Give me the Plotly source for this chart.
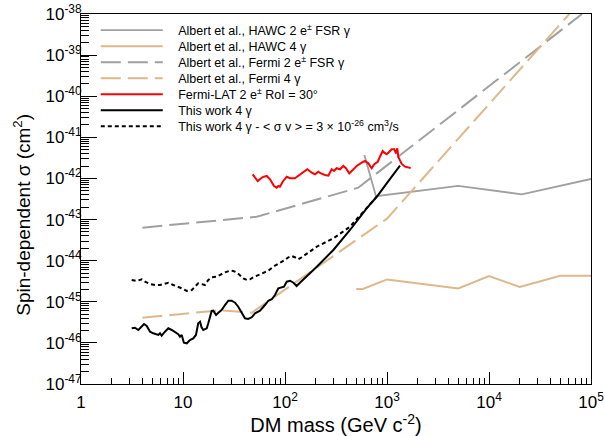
import plotly.graph_objects as go

# ---------------- data ----------------
hawc_2e_mass = [600, 780, 5000, 21000, 100000]
hawc_2e_sigma = [3.7e-42, 3.7e-43, 6.6e-43, 4.1e-43, 9.7e-43]

hawc_4g_mass = [500, 580, 1000, 5000, 10000, 20000, 50000, 100000]
hawc_4g_sigma = [2.05e-45, 2.05e-45, 3.5e-45, 2.1e-45, 4.2e-45, 2.3e-45, 4.3e-45, 4.3e-45]

fermi_2e_mass = [4.0, 52.8, 523, 81600]
fermi_2e_sigma = [6.34e-44, 1.17e-43, 5.96e-43, 1.0e-38]

fermi_4g_mass = [4.0, 23.0, 47.2, 276, 1000, 61300]
fermi_4g_sigma = [4.1e-46, 6.2e-46, 5.42e-46, 1.14e-44, 1.05e-43, 1.0e-38]

lat_mass = [48.2, 54.0, 60.4, 66.2, 71.3, 78.0, 82.9, 86.0, 89.3, 94.9, 104, 112, 125, 135,
            151, 165.5, 183, 197, 212, 225, 247, 266, 287, 302, 321, 346, 373, 396, 427, 451,
            504, 565, 608, 656, 708, 750, 811, 853, 907, 941, 993, 1054, 1112, 1180, 1225,
            1262, 1291, 1394, 1501, 1707]
lat_sigma = [1.26e-42, 8.67e-43, 1.08e-42, 1.15e-42, 9.53e-43, 6.55e-43, 5.96e-43, 6.55e-43,
             6.30e-43, 8.34e-43, 1.10e-42, 1.01e-42, 1.01e-42, 1.15e-42, 1.46e-42, 1.67e-42,
             1.38e-42, 1.26e-42, 1.46e-42, 1.33e-42, 1.21e-42, 1.17e-42, 1.67e-42, 1.52e-42,
             1.77e-42, 1.67e-42, 2.01e-42, 1.77e-42, 1.33e-42, 1.52e-42, 2.01e-42, 2.42e-42,
             2.66e-42, 2.33e-42, 1.77e-42, 2.21e-42, 2.55e-42, 3.38e-42, 4.65e-42, 4.23e-42,
             3.86e-42, 4.47e-42, 5.12e-42, 5.12e-42, 4.09e-42, 5.41e-42, 3.33e-42, 2.25e-42,
             1.93e-42, 1.80e-42]

work_mass = [3.14, 3.38, 3.65, 3.94, 4.15, 4.41, 4.75, 5.11, 5.52, 5.73, 5.95, 6.18, 6.66, 7.18,
             7.75, 8.35, 8.99, 9.34, 9.71, 10.2, 10.9, 11.7, 12.6, 13.4, 14.1, 14.7, 15.2, 15.8,
             17.1, 17.7, 19.1, 19.8, 21.1, 22.2, 23.9, 25.8, 27.8, 30.0, 32.4, 34.8, 37.6, 40.5,
             43.6, 47.2, 50.8, 56.9, 63.6, 68.6, 74.1, 79.8, 86.0, 92.9, 97.8, 104, 112, 121,
             130, 140, 205, 298, 434, 632, 804, 993, 1341]
work_sigma = [2.26e-46, 2.34e-46, 2.06e-46, 2.58e-46, 2.88e-46, 2.58e-46, 1.87e-46, 1.71e-46,
              1.64e-46, 1.56e-46, 1.71e-46, 1.50e-46, 1.87e-46, 2.26e-46, 2.06e-46, 1.81e-46,
              1.62e-46, 1.41e-46, 1.56e-46, 1.01e-46, 9.77e-47, 1.17e-46, 1.29e-46, 1.56e-46,
              2.99e-46, 3.27e-46, 2.39e-46, 2.06e-46, 2.26e-46, 2.99e-46, 5.97e-46, 6.07e-46,
              4.77e-46, 5.42e-46, 6.31e-46, 8.34e-46, 1.06e-45, 1.06e-45, 9.49e-46, 7.59e-46,
              5.25e-46, 3.96e-46, 3.81e-46, 4.19e-46, 5.25e-46, 6.07e-46, 8.34e-46, 1.06e-45,
              1.15e-45, 1.46e-45, 2.13e-45, 2.25e-45, 2.33e-45, 3.08e-45, 3.25e-45, 2.91e-45,
              2.42e-45, 2.91e-45, 7.13e-45, 1.82e-44, 5.57e-44, 1.88e-43, 3.74e-43, 7.62e-43,
              2.04e-42]

sv_mass = [3.14, 3.52, 3.94, 4.24, 4.75, 5.31, 5.95, 6.66, 7.18, 8.03, 8.99, 9.71, 10.9, 12.2,
           13.1, 14.1, 15.2, 16.4, 17.7, 19.1, 21.4, 23.1, 25.8, 28.9, 31.1, 33.6, 36.2, 39.0,
           42.2, 45.4, 48.9, 54.7, 61.3, 68.6, 76.8, 86.0, 92.9, 100, 108, 116, 125, 135, 146,
           205, 298, 434, 586, 708, 793]
sv_sigma = [3.39e-45, 3.20e-45, 3.52e-45, 3.08e-45, 2.70e-45, 2.56e-45, 2.56e-45, 2.81e-45,
            2.91e-45, 2.56e-45, 2.33e-45, 2.13e-45, 1.83e-45, 1.93e-45, 2.33e-45, 2.81e-45,
            2.70e-45, 2.56e-45, 3.39e-45, 3.94e-45, 4.07e-45, 4.48e-45, 5.21e-45, 5.70e-45,
            5.60e-45, 5.21e-45, 4.48e-45, 3.72e-45, 3.39e-45, 3.52e-45, 3.94e-45, 4.48e-45,
            4.93e-45, 5.70e-45, 7.13e-45, 8.30e-45, 9.44e-45, 1.04e-44, 1.21e-44, 1.30e-44,
            1.21e-44, 1.08e-44, 1.21e-44, 2.19e-44, 3.50e-44, 6.70e-44, 1.55e-43, 2.72e-43,
            3.60e-43]

x_tickvals = [1, 10, 100, 1e3, 1e4, 1e5]
x_ticktext = ["1", "10", "10<sup>2</sup>", "10<sup>3</sup>", "10<sup>4</sup>", "10<sup>5</sup>"]
y_tickvals = [10.0 ** e for e in range(-47, -37)]
y_ticktext = ["10<sup>%d</sup>" % e for e in range(-47, -37)]

x_title = "DM mass (GeV c<sup>-2</sup>)"
y_title = "Spin-dependent σ (cm<sup>2</sup>)"

series_names = [
    "Albert et al., HAWC 2 e<sup>±</sup> FSR γ",
    "Albert et al., HAWC 4 γ",
    "Albert et al., Fermi 2 e<sup>±</sup> FSR γ",
    "Albert et al., Fermi 4 γ",
    "Fermi-LAT 2 e<sup>±</sup> RoI = 30°",
    "This work 4 γ",
    "This work 4 γ - < σ v > = 3 × 10<sup>-26</sup> cm<sup>3</sup>/s",
]

GRAY = "#a0a0a0"
TAN = "#dcb88a"
LONG = "20px,7px"
FONT = "Liberation Sans, Arial, sans-serif"
PAD = "\u00a0\u00a0\u00a0"  # spacing between legend key and its label

series = [
    (hawc_2e_mass, hawc_2e_sigma, dict(color=GRAY, width=1.8)),
    (hawc_4g_mass, hawc_4g_sigma, dict(color=TAN, width=2)),
    (fermi_2e_mass, fermi_2e_sigma, dict(color=GRAY, width=2, dash=LONG)),
    (fermi_4g_mass, fermi_4g_sigma, dict(color=TAN, width=2, dash=LONG)),
    (lat_mass, lat_sigma, dict(color="#ff0000", width=2)),
    (work_mass, work_sigma, dict(color="black", width=2)),
    (sv_mass, sv_sigma, dict(color="black", width=2, dash="4px,3px")),
]

fig = go.Figure()
layout_legends = {}
PLOT_TOP, PLOT_BOTTOM = 14, 384
row0, row_step = 30.5, 16.0
for i, ((xs, ys, ln), name) in enumerate(zip(series, series_names)):
    lg = "legend" if i == 0 else "legend%d" % (i + 1)
    fig.add_trace(go.Scatter(x=xs, y=ys, mode="lines", name=PAD + name, line=ln, legend=lg))
    py = row0 + i * row_step
    layout_legends[lg] = dict(
        x=0.029, y=(PLOT_BOTTOM - py) / (PLOT_BOTTOM - PLOT_TOP),
        xanchor="left", yanchor="middle",
        bgcolor="rgba(0,0,0,0)", borderwidth=0,
        font=dict(size=12.5, family=FONT, color="black"), itemwidth=62,
    )

fig.update_layout(
    width=605, height=436,
    margin=dict(l=81, r=14, t=14, b=52),
    paper_bgcolor="white", plot_bgcolor="white",
    font=dict(family=FONT, color="black"),
    showlegend=True,
    annotations=[
        dict(text=y_title, xref="paper", yref="paper", x=-0.116, y=0.457,
             xanchor="center", yanchor="middle", textangle=-90, showarrow=False,
             font=dict(size=19, family=FONT, color="black")),
    ],
    **layout_legends,
)
fig.update_xaxes(
    type="log", range=[0, 5], automargin=False,
    tickmode="array", tickvals=x_tickvals, ticktext=x_ticktext,
    ticks="inside", ticklen=12, tickwidth=1, tickcolor="black",
    minor=dict(ticks="inside", ticklen=6, tickwidth=1, tickcolor="black", dtick="D1", showgrid=False),
    showline=True, linecolor="black", linewidth=1, mirror=True,
    showgrid=False, zeroline=False,
    tickfont=dict(size=17, family=FONT), ticklabelstandoff=3,
    title=dict(text=x_title, font=dict(size=20, family=FONT), standoff=0),
)
fig.update_yaxes(
    type="log", range=[-47, -38], automargin=False,
    tickmode="array", tickvals=y_tickvals, ticktext=y_ticktext,
    ticks="inside", ticklen=16, tickwidth=1, tickcolor="black",
    minor=dict(ticks="inside", ticklen=8, tickwidth=1, tickcolor="black", dtick="D1", showgrid=False),
    showline=True, linecolor="black", linewidth=1, mirror=True,
    showgrid=False, zeroline=False,
    tickfont=dict(size=17, family=FONT), ticklabelstandoff=-5,
)

fig.write_html("out.html", config={"displayModeBar": False},
               post_script="document.body.style.margin='0px';")
